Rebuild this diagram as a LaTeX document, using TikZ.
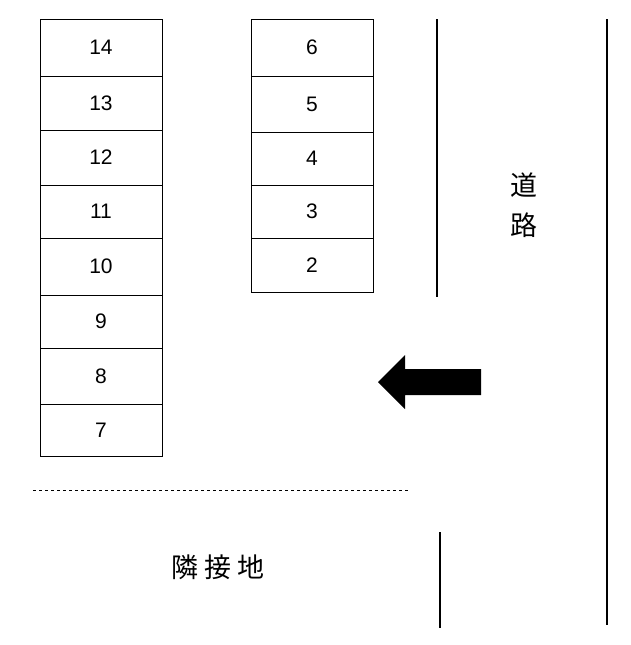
\documentclass[tikz,border=0pt]{standalone}
\usepackage{fontspec}
\setmainfont{Liberation Sans}
\newfontfamily\cjk{Noto Sans CJK JP}
\usetikzlibrary{positioning}
\begin{document}
\begin{tikzpicture}[
x=1pt, y=-1pt,
lot/.style={draw, line width=1pt, minimum width=122pt, inner sep=0pt, outer sep=0pt, font=\fontsize{21}{21}\selectfont},
road/.style={line width=2pt},
label/.style={font=\cjk\fontsize{27}{40}\selectfont, align=center}
]

\useasboundingbox (0,0) rectangle (631,645);

% left column
\node[lot, minimum height=57pt, anchor=north west] (p14) at (40,19) {14};
\node[lot, minimum height=54pt, below=0pt of p14] (p13) {13};
\node[lot, minimum height=55pt, below=0pt of p13] (p12) {12};
\node[lot, minimum height=53pt, below=0pt of p12] (p11) {11};
\node[lot, minimum height=57pt, below=0pt of p11] (p10) {10};
\node[lot, minimum height=53pt, below=0pt of p10] (p9) {9};
\node[lot, minimum height=56pt, below=0pt of p9] (p8) {8};
\node[lot, minimum height=52pt, below=0pt of p8] (p7) {7};

% right column
\node[lot, minimum height=57pt, anchor=north west] (p6) at (251,19) {6};
\node[lot, minimum height=56pt, below=0pt of p6] (p5) {5};
\node[lot, minimum height=53pt, below=0pt of p5] (p4) {4};
\node[lot, minimum height=53pt, below=0pt of p4] (p3) {3};
\node[lot, minimum height=54pt, below=0pt of p3] (p2) {2};

% road
\coordinate (ra) at (437,19);
\coordinate (rb) at (437,297);
\coordinate (rc) at (607,19);
\coordinate (rd) at (607,625);
\coordinate (re) at (440,532);
\coordinate (rf) at (440,628);
\draw[road] (ra) -- (rb);
\draw[road] (rc) -- (rd);
\draw[road] (re) -- (rf);

% boundary
\coordinate (da) at (33,490);
\coordinate (db) at (408,490);
\draw[dashed, line width=0.8pt] (da) -- (db);

% entrance
\fill (481,369) -- (405,369) -- (405,355) -- (378,382) -- (405,409) -- (405,395) -- (481,395) -- cycle;

\node[label] (road) at (524,205) {道\\路};
\node[label] (next) at (218,567) {隣 接 地};
\end{tikzpicture}
\end{document}
